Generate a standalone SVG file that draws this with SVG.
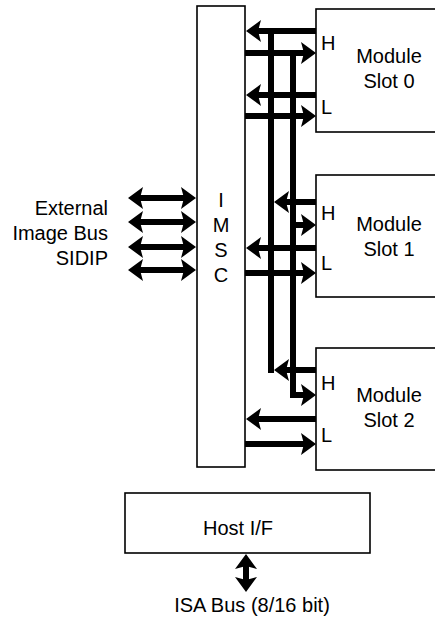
<svg xmlns="http://www.w3.org/2000/svg" xmlns:xlink="http://www.w3.org/1999/xlink" width="435" height="621" viewBox="0 0 435 621">
<style>
.box{fill:#fff;stroke:#000;stroke-width:1.6}
.t{font-family:"Liberation Sans",Arial,sans-serif;font-size:20px;fill:#000}
.m{text-anchor:middle}
.e{text-anchor:end}
.bus{stroke:#000;stroke-width:6;fill:none}
.hd{fill:#000}
</style>
<defs>
<path id="hr" d="M0,0 L-15,-11 L-12,0 L-15,11 Z"/>
<path id="hl" d="M0,0 L15,-11 L12,0 L15,11 Z"/>
<path id="hu" d="M0,0 L-11,15 L0,12 L11,15 Z"/>
<path id="hdn" d="M0,0 L-11,-15 L0,-12 L11,-15 Z"/>
</defs>
<rect width="435" height="621" fill="#fff"/>
<g id="imsc">
<rect class="box" x="197" y="6" width="48" height="461"/>
<text class="t m" x="221" y="207">I</text>
<text class="t m" x="221" y="232">M</text>
<text class="t m" x="221" y="257">S</text>
<text class="t m" x="221" y="282">C</text>
</g>
<g id="slot0">
<rect class="box" x="316" y="9" width="130" height="123"/>
<text class="t" x="321" y="50">H</text>
<text class="t" x="321" y="114">L</text>
<text class="t m" x="389" y="63">Module</text>
<text class="t m" x="389" y="88">Slot 0</text>
</g>
<g id="slot1">
<rect class="box" x="316" y="175" width="130" height="122"/>
<text class="t" x="321" y="220">H</text>
<text class="t" x="321" y="270">L</text>
<text class="t m" x="389" y="231">Module</text>
<text class="t m" x="389" y="256">Slot 1</text>
</g>
<g id="slot2">
<rect class="box" x="316" y="348" width="130" height="122"/>
<text class="t" x="321" y="390">H</text>
<text class="t" x="321" y="442">L</text>
<text class="t m" x="389" y="402">Module</text>
<text class="t m" x="389" y="427">Slot 2</text>
</g>
<g id="external">
<text class="t e" x="108" y="215">External</text>
<text class="t e" x="108" y="240">Image Bus</text>
<text class="t e" x="108" y="265">SIDIP</text>
</g>
<g id="host">
<rect class="box" x="125" y="493" width="245" height="60"/>
<text class="t m" x="238" y="535">Host I/F</text>
<text class="t m" x="252" y="612">ISA Bus (8/16 bit)</text>
</g>
<g id="connectors">
<line class="bus" x1="271" y1="28" x2="271" y2="373"/>
<line class="bus" x1="293" y1="50" x2="293" y2="398"/>
<path class="bus" d="M316,31 H256 M245,53 H305 M316,95 H256 M245,116 H305 M316,202 H284 M290,225 H305 M316,248 H256 M245,273 H305 M316,370 H284 M290,395 H305 M316,419 H256 M245,444 H305 M138,198 H186 M138,222 H186 M138,247 H186 M138,270 H186 M246,565 V581"/>
<g class="hd">
<use xlink:href="#hl" x="246" y="31"/>
<use xlink:href="#hr" x="316" y="53"/>
<use xlink:href="#hl" x="246" y="95"/>
<use xlink:href="#hr" x="316" y="116"/>
<use xlink:href="#hl" x="274" y="202"/>
<use xlink:href="#hr" x="316" y="225"/>
<use xlink:href="#hl" x="246" y="248"/>
<use xlink:href="#hr" x="316" y="273"/>
<use xlink:href="#hl" x="274" y="370"/>
<use xlink:href="#hr" x="316" y="395"/>
<use xlink:href="#hl" x="246" y="419"/>
<use xlink:href="#hr" x="316" y="444"/>
<use xlink:href="#hl" x="128" y="198"/>
<use xlink:href="#hr" x="196" y="198"/>
<use xlink:href="#hl" x="128" y="222"/>
<use xlink:href="#hr" x="196" y="222"/>
<use xlink:href="#hl" x="128" y="247"/>
<use xlink:href="#hr" x="196" y="247"/>
<use xlink:href="#hl" x="128" y="270"/>
<use xlink:href="#hr" x="196" y="270"/>
<use xlink:href="#hu" x="246" y="554"/>
<use xlink:href="#hdn" x="246" y="592"/>
</g>
</g>
</svg>
